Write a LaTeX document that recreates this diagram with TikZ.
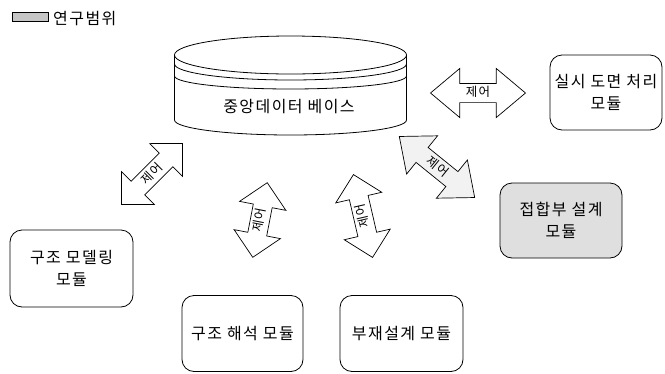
\documentclass[tikz,border=0pt]{standalone}
\usepackage{fontspec}
\newfontfamily\kr[LetterSpace=9]{Noto Sans CJK KR}
\usetikzlibrary{shapes.arrows}
\begin{document}
\begin{tikzpicture}[x=1pt,y=-1pt,
  modbox/.style={draw, rounded corners=12pt, line width=0.8pt, font=\kr\fontsize{16}{22}\selectfont, align=center, inner sep=0pt},
  darrow/.style={double arrow, draw, line width=0.7pt, fill=white, font=\kr\fontsize{12.5}{13}\selectfont,
    inner xsep=1pt, inner ysep=2pt, text height=11pt, text depth=3.5pt, double arrow head extend=15pt,
    double arrow tip angle=80, double arrow head indent=0pt},
  lbl/.style={font=\kr\fontsize{16}{20}\selectfont, inner sep=0pt},
  cyl/.style={line width=0.8pt}
]
\useasboundingbox (0,0) rectangle (665,373);

% legend
\node[draw, fill=gray!45, line width=0.5pt, minimum width=36pt, minimum height=9pt, inner sep=0pt] (leg) at (30,17) {};
\node[lbl, anchor=west] (legt) at (53,19) {연구범위};

% central database cylinder
\fill[white] (174.5,55) -- (174.5,120) arc[start angle=180,end angle=0,x radius=116,y radius=15] -- (406.5,55) -- cycle;
\draw[cyl] (174.5,55) -- (174.5,120) arc[start angle=180,end angle=0,x radius=116,y radius=15] -- (406.5,55);
\draw[cyl] (290.5,55) ellipse [x radius=116, y radius=19];
\draw[cyl] (174.5,64) arc[start angle=180,end angle=0,x radius=116,y radius=16];
\draw[cyl] (174.5,76) arc[start angle=180,end angle=0,x radius=116,y radius=13];
\node[lbl] (db) at (289,107) {중앙데이터 베이스};

% modules
\node[modbox, minimum width=112pt, minimum height=75pt] (m1) at (606,92.5) {실시 도면 처리\\모듈};
\node[modbox, fill=gray!25, minimum width=122pt, minimum height=75pt] (m2) at (561,220.5) {접합부 설계\\모듈};
\node[modbox, minimum width=123pt, minimum height=76pt] (m3) at (401.5,333.5) {부재설계 모듈};
\node[modbox, minimum width=121pt, minimum height=76pt] (m4) at (242.5,333.5) {구조 해석 모듈};
\node[modbox, minimum width=123pt, minimum height=77pt] (m5) at (71.5,268.5) {구조 모델링\\모듈};

% control arrows
\node[darrow, minimum height=95pt] (a1) at (478,93) {제어};
\node[darrow, minimum height=97pt, fill=gray!10, rotate=-39] (a2) at (437,167) {제어};
\node[darrow, minimum height=86pt, double arrow tip angle=90, double arrow head extend=13.5pt, rotate=45] (a3) at (152,174) {제어};
\node[darrow, minimum height=76pt, double arrow tip angle=90, double arrow head extend=14pt, rotate=79] (a4) at (260,220) {제어};
\node[darrow, minimum height=85pt, double arrow tip angle=90, double arrow head extend=14pt, rotate=103] (a5) at (363,216) {제어};
\end{tikzpicture}
\end{document}
